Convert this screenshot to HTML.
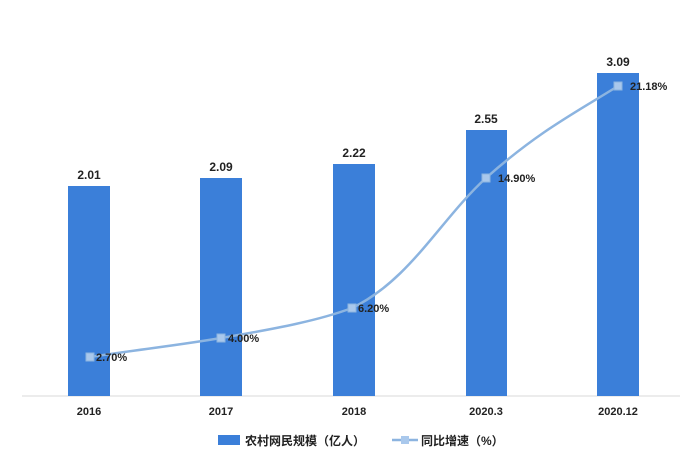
<!DOCTYPE html>
<html><head><meta charset="utf-8"><style>
body{margin:0;background:#fff;}
svg text{font-family:"Liberation Sans","Noto Sans CJK SC",sans-serif;font-weight:bold;fill:#222;}
</style></head><body>
<svg width="700" height="470" viewBox="0 0 700 470" xmlns="http://www.w3.org/2000/svg">
<rect width="700" height="470" fill="#fff"/>
<line x1="22" y1="396" x2="680" y2="396" stroke="#d9d9d9" stroke-width="1"/>
<g fill="#3b7fd9">
<rect x="68" y="186" width="42" height="210"/>
<rect x="200" y="178" width="42" height="218"/>
<rect x="333" y="164" width="42" height="232"/>
<rect x="466" y="130" width="41" height="266"/>
<rect x="597" y="73" width="42" height="323"/>
</g>
<g font-size="12" text-anchor="middle">
<text x="89" y="179">2.01</text>
<text x="221" y="171">2.09</text>
<text x="354" y="157">2.22</text>
<text x="486" y="123">2.55</text>
<text x="618" y="66">3.09</text>
<text x="89" y="415" font-size="11">2016</text>
<text x="221" y="415" font-size="11">2017</text>
<text x="354" y="415" font-size="11">2018</text>
<text x="486" y="415" font-size="11">2020.3</text>
<text x="618" y="415" font-size="11">2020.12</text>
</g>
<path d="M90,357 C150,348 180,345 221,338 C280,328 320,320 352,308 C410,280 440,220 486,178 C540,130 580,110 618,86" fill="none" stroke="#8cb4e0" stroke-width="2.5"/>
<g fill="#a9c8ec" stroke="#8cb4e0" stroke-width="1">
<rect x="86" y="353" width="8" height="8"/>
<rect x="217" y="334" width="8" height="8"/>
<rect x="348" y="304" width="8" height="8"/>
<rect x="482" y="174" width="8" height="8"/>
<rect x="614" y="82" width="8" height="8"/>
</g>
<g font-size="11">
<text x="96" y="361">2.70%</text>
<text x="228" y="342">4.00%</text>
<text x="358" y="312">6.20%</text>
<text x="498" y="182">14.90%</text>
<text x="630" y="90">21.18%</text>
</g>
<rect x="218" y="435" width="22" height="10" fill="#3b7fd9"/>
<text x="245" y="445" font-size="12">农村网民规模（亿人）</text>
<line x1="392" y1="440" x2="418" y2="440" stroke="#8cb4e0" stroke-width="2.5"/>
<rect x="401" y="436" width="8" height="8" fill="#a9c8ec"/>
<text x="421" y="445" font-size="12">同比增速（%）</text>
</svg>
</body></html>
